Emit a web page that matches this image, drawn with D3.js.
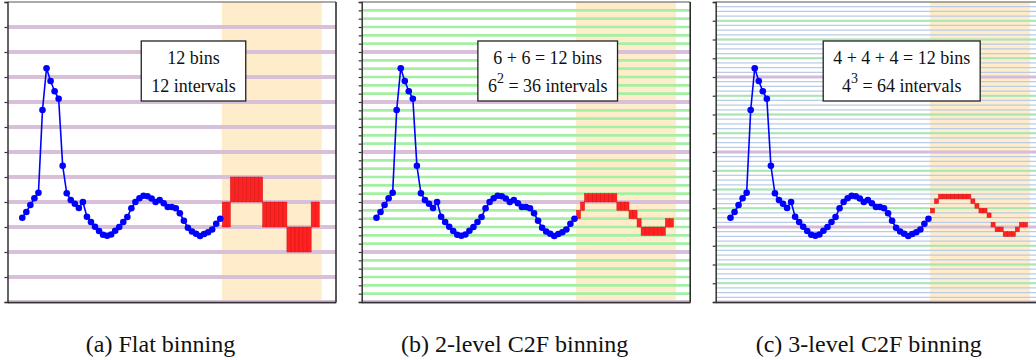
<!DOCTYPE html>
<html>
<head>
<meta charset="utf-8">
<script src="https://cdn.jsdelivr.net/npm/d3@7"></script>
<style>
  html, body { margin: 0; padding: 0; background: #fff; }
  svg { display: block; }
  text { font-family: 'Liberation Serif', 'Times New Roman', serif; }
</style>
</head>
<body>
<svg id="chart" width="1036" height="360"></svg>
<script>
// ---------- DATA ----------
// history series (value units: 0..12 where 1 unit = one flat bin)
const history = [3.37, 3.60, 3.88, 4.15, 4.37, 7.68, 9.35, 8.84, 8.43, 8.13,
  5.45, 4.35, 4.08, 3.93, 3.76, 4.00, 3.41, 3.20, 3.01, 2.84,
  2.69, 2.65, 2.70, 2.85, 3.00, 3.20, 3.40, 3.75, 4.00, 4.15,
  4.25, 4.23, 4.14, 4.00, 4.08, 3.95, 3.80, 3.80, 3.75, 3.55,
  3.25, 2.97, 2.82, 2.73, 2.64, 2.72, 2.79, 2.90, 3.13, 3.33];
// forecast bin indices for time steps 50..73
const forecastFlat = [3, 3, 4, 4, 4, 4, 4, 4, 4, 4, 3, 3, 3, 3, 3, 3, 2, 2, 2, 2, 2, 2, 3, 3];      // of 12 bins
const forecast2lvl = [10, 11, 12, 12, 12, 12, 12, 12, 12, 12, 11, 11, 11, 10, 10, 9, 8, 8, 8, 8, 8, 8, 9, 9]; // of 36 intervals
const forecast3lvl = [19, 21, 22, 22, 22, 22, 22, 22, 22, 22, 21, 20, 19, 19, 18, 16, 15, 15, 14, 14, 14, 15, 16, 16]; // of 64 intervals
const forecastStart = 50;
const forecastWindow = [49.4, 74.1];

const captions = ["(a) Flat binning", "(b) 2-level C2F binning", "(c) 3-level C2F binning"];
const boxLine1 = ["12 bins", "6 + 6 = 12 bins", "4 + 4 + 4 = 12 bins"];
const boxBase = [null, "6", "4"];
const boxSup = [null, "2", "3"];
const boxLine2 = ["12 intervals", " = 36 intervals", " = 64 intervals"];
const gridLevels = [[12], [36, 6], [64, 16, 4]];   // interval counts per level, finest first
const tickLevel = [12, 36, 16];
const forecasts = [forecastFlat, forecast2lvl, forecast3lvl];
const forecastRes = [12, 36, 64];

// ---------- LAYOUT / STYLE ----------
const panelLeft = [7.5, 361.7, 715.7];
const panelW = 328.5, plotTop = 2, plotBottom = 302;
const levelStyle = {
  12: {color: "#d9c0d9", w: 4},
  6: {color: "#d9c0d9", w: 4},
  4: {color: "#d4bcd8", w: 3.2},
  36: {color: "#a3f0a3", w: 2.6},
  16: {color: "#a8e8b0", w: 2.2},
  64: {color: "#b8cce6", w: 1.3}
};

const svg = d3.select("#chart");
const y = d3.scaleLinear().domain([0, 12]).range([plotBottom, plotTop]);

panelLeft.forEach((left, p) => {
  const x = d3.scaleLinear().domain([-3.66, 77.65]).range([left, left + panelW]);
  const g = svg.append("g");

  // forecast window band
  g.append("rect")
    .attr("x", x(forecastWindow[0])).attr("y", plotTop)
    .attr("width", x(forecastWindow[1]) - x(forecastWindow[0]))
    .attr("height", plotBottom - plotTop)
    .attr("fill", "#ffecca");

  // grid lines per level
  gridLevels[p].forEach(n => {
    const st = levelStyle[n];
    const vals = d3.range(0, n).map(k => k * 12 / n);
    g.selectAll(null).data(vals).enter().append("line")
      .attr("x1", left).attr("x2", left + panelW)
      .attr("y1", d => y(d)).attr("y2", d => y(d))
      .attr("stroke", st.color).attr("stroke-width", st.w);
  });

  // forecast red cells
  const res = forecastRes[p];
  const fc = forecasts[p];
  g.selectAll(null).data(fc).enter().append("rect")
    .attr("x", (d, i) => x(forecastStart + i - 0.5))
    .attr("width", x(1) - x(0))
    .attr("y", d => y((d + 1) * 12 / res))
    .attr("height", d => y(d * 12 / res) - y((d + 1) * 12 / res))
    .attr("fill", "#ff2222")
    .attr("stroke", "#d81010").attr("stroke-width", 0.5);

  // history line + points
  const line = d3.line().x((d, i) => x(i)).y(d => y(d));
  g.append("path").datum(history)
    .attr("d", line).attr("fill", "none")
    .attr("stroke", "#0000ff").attr("stroke-width", 1.6);
  g.selectAll(null).data(history).enter().append("circle")
    .attr("cx", (d, i) => x(i)).attr("cy", d => y(d)).attr("r", 3.3)
    .attr("fill", "#0000ff");

  // frame: top & right
  g.append("line").attr("x1", left).attr("x2", left + panelW)
    .attr("y1", plotTop).attr("y2", plotTop).attr("stroke", "#555").attr("stroke-width", 1);
  g.append("line").attr("x1", left + panelW).attr("x2", left + panelW)
    .attr("y1", plotTop).attr("y2", plotBottom).attr("stroke", "#222").attr("stroke-width", 1.5);

  // axes
  const tl = tickLevel[p];
  const yAxis = d3.axisLeft(y).tickValues(d3.range(0, tl + 1).map(k => k * 12 / tl))
    .tickSize(3).tickFormat("");
  const ya = g.append("g").attr("transform", `translate(${left},0)`).call(yAxis);
  ya.select(".domain").attr("stroke", "#333").attr("stroke-width", 1.5);
  ya.selectAll(".tick line").attr("stroke", "#333").attr("stroke-width", 1.2);
  const xAxis = d3.axisBottom(x).tickValues([]).tickSizeOuter(0);
  const xa = g.append("g").attr("transform", `translate(0,${plotBottom})`).call(xAxis);
  xa.select(".domain").attr("stroke", "#333").attr("stroke-width", 1.5);

  // text box
  const cx = left + 186;
  const bg = g.append("g");
  const rect = bg.append("rect").attr("fill", "#fff").attr("stroke", "#222").attr("stroke-width", 1.3);
  const t1 = bg.append("text").attr("x", cx).attr("y", 64).attr("text-anchor", "middle")
    .attr("font-size", 18).attr("fill", "#111")
    .text(boxLine1[p]);
  const t2 = bg.append("text").attr("x", cx).attr("y", 91.5).attr("text-anchor", "middle")
    .attr("font-size", 18).attr("fill", "#111");
  if (boxBase[p]) {
    t2.append("tspan").text(boxBase[p]);
    t2.append("tspan").attr("font-size", 14).attr("dy", -9).text(boxSup[p]);
    t2.append("tspan").attr("dy", 9).text(boxLine2[p]);
  } else {
    t2.text(boxLine2[p]);
  }
  const b1 = t1.node().getBBox(), b2 = t2.node().getBBox();
  const bw = Math.max(b1.width, b2.width) + 20;
  rect.attr("x", cx - bw / 2).attr("y", 41).attr("width", bw).attr("height", 60);

  // caption
  svg.append("text").attr("x", left + 153).attr("y", 352).attr("text-anchor", "middle")
    .attr("font-size", 24).attr("fill", "#111")
    .text(captions[p]);
});
</script>
</body>
</html>
